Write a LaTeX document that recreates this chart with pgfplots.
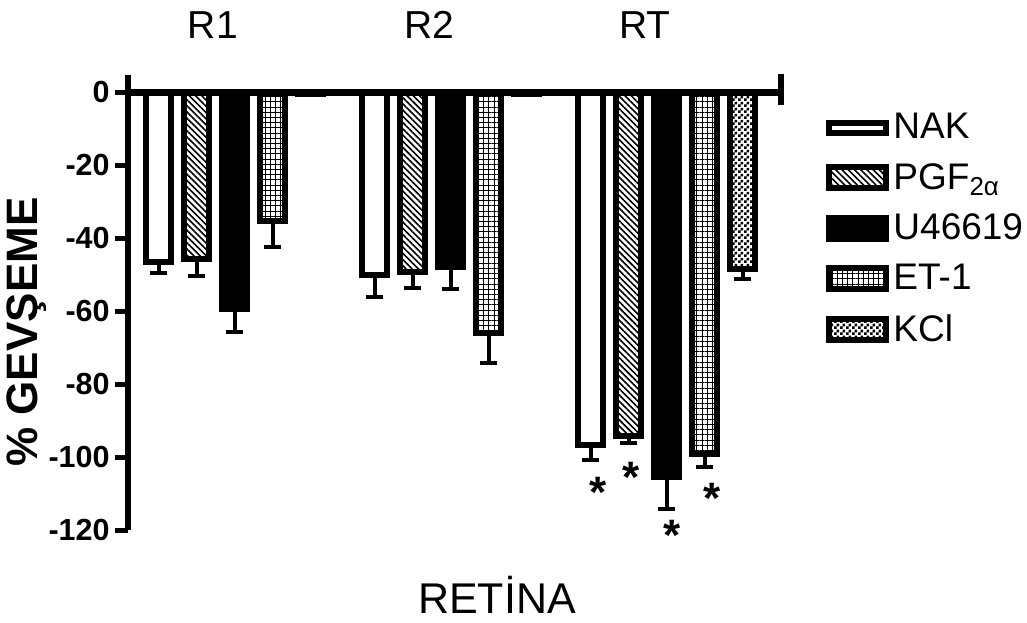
\documentclass[border=0pt]{standalone}
\usepackage{pgfplots}
\pgfplotsset{compat=1.18}
\usepackage{fontspec}
\setmainfont{Liberation Sans}
\usetikzlibrary{patterns,patterns.meta}

\pgfdeclarepatternformonly{mychecker}{\pgfpointorigin}{\pgfpoint{3pt}{3pt}}{\pgfpoint{3pt}{3pt}}{%
  \pgfpathrectangle{\pgfpointorigin}{\pgfpoint{1.5pt}{1.5pt}}%
  \pgfpathrectangle{\pgfpoint{1.5pt}{1.5pt}}{\pgfpoint{1.5pt}{1.5pt}}%
  \pgfusepath{fill}}

\pgfplotsset{
  mybar/.style={draw=black, line width=3pt,
    error bars/y dir=minus, error bars/y explicit,
    error bars/error bar style={line width=2pt, black, solid},
    error bars/error mark options={rotate=90, mark size=4.25pt, line width=2pt, black}},
  boxlegend/.style={legend image code/.code={\draw[##1, line width=3pt] (0pt,-5.25pt) rectangle (28.5pt,5.25pt);}},
  thinlegend/.style={legend image code/.code={\draw[##1, line width=3pt] (0pt,-2.5pt) rectangle (28.5pt,2.5pt);}},
}

\begin{document}
\begin{tikzpicture}
\begin{axis}[
  at={(0,0)}, anchor=south west,
  scale only axis, width=326.5pt, height=227.5pt,
  xmin=-0.495, xmax=2.528, ymin=-120, ymax=4.66,
  ybar, bar width=12.5pt,
  axis y line=left, axis x line=top,
  axis line style={-},
  x axis line style={draw=none},
  y axis line style={line width=3pt},
  clip=false,
  ytick={-120,-100,-80,-60,-40,-20,0},
  yticklabels={-120,-100,-80,-60,-40,-20,0},
  ytick style={line width=2.5pt, black},
  major tick length=6.5pt, tick align=outside,
  yticklabel style={font=\bfseries\fontsize{15.25}{18}\selectfont, inner sep=2.5pt},
  xtick={0,1,2}, xticklabels={R1,R2,RT},
  xtick style={draw=none},
  xticklabel style={font=\fontsize{19.5}{22}\selectfont, yshift=8pt, xshift=-11pt},
  ylabel={\% GEVŞEME},
  ylabel style={font=\bfseries\fontsize{22}{26}\selectfont, at={(axis description cs:-0.1547,0.435)}, anchor=center},
  xlabel={RETİNA},
  xlabel style={font=\fontsize{21.5}{25}\selectfont, at={(axis description cs:0.565,-0.1824)}, anchor=base},
  legend style={at={(axis description cs:1.069,0.925)}, anchor=north west, draw=none, fill=none,
    font=\fontsize{18.5}{22}\selectfont, row sep=6.8pt, inner sep=0pt},
  legend cell align=left,
]
\addplot[mybar, thinlegend, bar shift=-38pt, fill=white]
  coordinates {(0,-46.6) -= (0,3) (1,-50.1) -= (0,6) (2,-96.7) -= (0,4)};
\addlegendentry{NAK}
\addplot[mybar, boxlegend, bar shift=-19pt, fill=white, pattern={Lines[angle=-45,distance=2.2pt,line width=0.8pt]}]
  coordinates {(0,-45.8) -= (0,4.6) (1,-49.3) -= (0,4.4) (2,-94.2) -= (0,2)};
\addlegendentry{PGF\textsubscript{2α}}
\addplot[mybar, boxlegend, bar shift=0pt, fill=black]
  coordinates {(0,-59.5) -= (0,6.3) (1,-47.9) -= (0,6) (2,-105.5) -= (0,8.7)};
\addlegendentry{U46619}
\addplot[mybar, boxlegend, bar shift=19pt, fill=white, pattern={Hatch[angle=0,distance=2.6pt,line width=0.5pt]}]
  coordinates {(0,-35.4) -= (0,7) (1,-66) -= (0,8.2) (2,-99.2) -= (0,3.5)};
\addlegendentry{ET-1}
\addplot[mybar, boxlegend, bar shift=38pt, fill=white, pattern=mychecker]
  coordinates {(0,-0.5) -= (0,0) (1,-0.5) -= (0,0) (2,-48.5) -= (0,2.7)};
\addlegendentry{KCl}
\addplot[forget plot, sharp plot, bar shift=0pt, draw=none, mark=none, nodes near coords={*},
  every node near coord/.append style={anchor=center, font=\bfseries\fontsize{22}{24}\selectfont, black, yshift=-2.5pt}]
  coordinates {(1.681,-108.2) (1.833,-104.1) (2.023,-120) (2.208,-109.9)};
\draw[line width=3.5pt] (axis cs:-0.495,0) -- (axis cs:2.528,0);
\draw[line width=3pt] (axis cs:2.528,4.9) -- (axis cs:2.528,-3.6);
\end{axis}
\pgfresetboundingbox
\path[use as bounding box] (-64pt,-46pt) rectangle (449.5pt,265pt);
\end{tikzpicture}
\end{document}
